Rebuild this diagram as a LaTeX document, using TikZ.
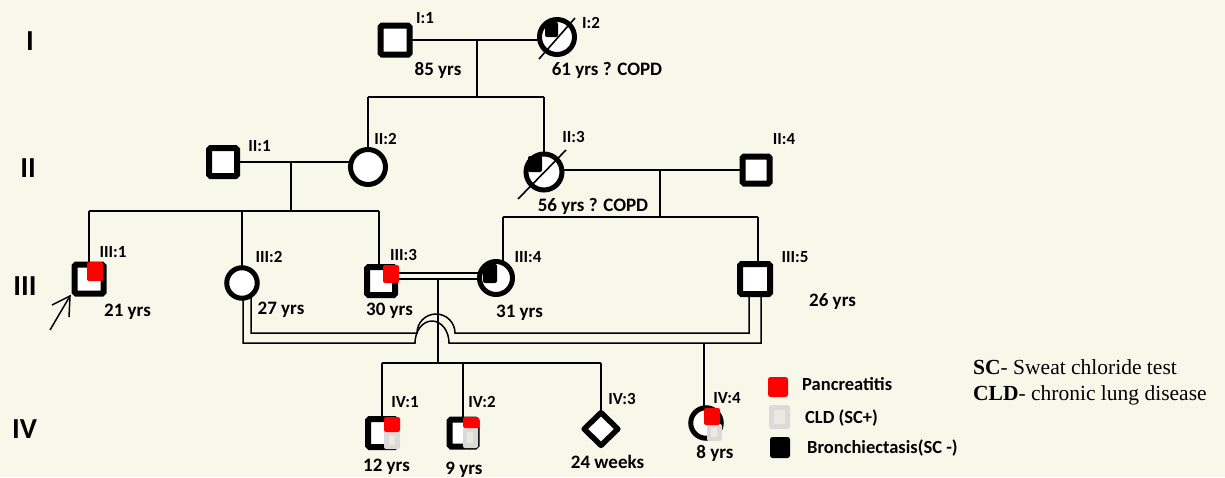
\documentclass[tikz,border=0pt]{standalone}
\usepackage{fontspec}
\setmainfont{Carlito}
\newfontfamily\serifx{Liberation Serif}
\usetikzlibrary{shapes.geometric,backgrounds}
\definecolor{bg}{RGB}{248,248,234}
\definecolor{cldgrey}{RGB}{218,218,218}
\definecolor{cldin}{RGB}{236,234,222}
\definecolor{redm}{RGB}{255,0,0}
\tikzset{
  male/.style={draw, rectangle, line width=6pt, rounded corners=1.5pt, fill=white, minimum size=#1, inner sep=0pt},
  female/.style={draw, circle, line width=5pt, fill=white, minimum size=#1, inner sep=0pt},
  unknownsex/.style={draw, diamond, line width=5.5pt, line join=round, fill=white, minimum width=36pt, minimum height=35pt, inner sep=0pt},
  conn/.style={line width=1.5pt, black},
  idlab/.style={font=\bfseries\fontsize{17}{19}\selectfont, inner sep=0pt, anchor=base},
  agelab/.style={font=\bfseries\fontsize{19}{21}\selectfont, inner sep=0pt, anchor=base},
  genlab/.style={font=\bfseries\fontsize{29}{31}\selectfont, inner sep=0pt, anchor=base},
  leglab/.style={font=\bfseries\fontsize{18.5}{20}\selectfont, inner sep=0pt, anchor=base west},
  notelab/.style={font=\serifx\fontsize{21.5}{23}\selectfont, inner sep=0pt, anchor=base west},
  redmark/.style={fill=redm, rounded corners=2pt},
  blackmark/.style={fill=black, rounded corners=2pt},
  slash/.style={line width=1.6pt, black}
}
\begin{document}
\begin{tikzpicture}[x=1pt,y=-1pt]
\useasboundingbox (0,0) rectangle (1225,477);

% ---- individuals ----
\node[male=29pt] (I1) at (395,40) {};
\node[female=35pt] (I2) at (557,37) {};
\node[male=28pt] (II1) at (223,162) {};
\node[female=35pt] (II2) at (368,167) {};
\node[female=36pt] (II3) at (544,172) {};
\node[male=27pt] (II4) at (756,170) {};
\node[male=29pt] (III1) at (89,279) {};
\node[female=30.5pt] (III2) at (242,283) {};
\node[male=28pt] (III3) at (381,281) {};
\node[female=33pt] (III4) at (496,278) {};
\node[male=30pt] (III5) at (755,279) {};
\node[male=28pt] (IV1) at (382,433) {};
\node[male=27pt] (IV2) at (463,433) {};
\node[unknownsex] (IV3) at (601,429) {};
\node[female=30.5pt] (IV4) at (706,423) {};

% ---- connectors (behind symbols) ----
\begin{pgfonlayer}{background}
\fill[bg] (0,0) rectangle (1225,477);
% generation I
\draw[conn] (I1.center) -- (I1 -| I2);
\coordinate (m1) at (477,40);
\coordinate (s1) at (477,97);
\draw[conn] (m1) -- (s1);
\draw[conn] (II2 |- s1) -- (II3 |- s1);
\draw[conn] (II2 |- s1) -- (II2.center);
\draw[conn] (II3 |- s1) -- (II3.center);
% generation II left
\draw[conn] (II1.center) -- (II1 -| II2);
\coordinate (m2) at (291,162);
\coordinate (s2) at (291,211);
\coordinate (d3) at (379,211);
\draw[conn] (m2) -- (s2);
\draw[conn] (III1 |- s2) -- (d3);
\draw[conn] (III1 |- s2) -- (III1.center);
\draw[conn] (III2 |- s2) -- (III2.center);
\draw[conn] (d3) -- (d3 |- III3.center);
% generation II right
\draw[conn] (II4.center) -- (II4 -| II3);
\coordinate (m3) at (660,170);
\coordinate (s3) at (660,217);
\coordinate (d4) at (503,217);
\coordinate (d5) at (758,217);
\draw[conn] (m3) -- (s3);
\draw[conn] (d4) -- (d5);
\draw[conn] (d4) -- (d4 |- III4.center);
\draw[conn] (d5) -- (d5 |- III5.center);
% III:3 = III:4 consanguineous
\coordinate (ya) at (0,273);
\coordinate (yb) at (0,279);
\draw[conn] (III3 |- ya) -- (III4 |- ya);
\draw[conn] (III3 |- yb) -- (III4 |- yb);
\coordinate (m4) at (438,279);
\coordinate (s4) at (438,363);
\draw[conn] (m4) -- (s4);
\draw[conn] (IV1 |- s4) -- (IV3 |- s4);
\draw[conn] (IV1 |- s4) -- (IV1.center);
\draw[conn] (IV2 |- s4) -- (IV2.center);
\draw[conn] (IV3 |- s4) -- (IV3.center);
% III:2 = III:5 consanguineous
\coordinate (oa) at (243,343);
\coordinate (ob) at (761,343);
\coordinate (ia) at (251,333);
\coordinate (ib) at (749,333);
\draw[conn] (oa |- III2.center) -- (oa) -- (415,343)
   arc[start angle=180, end angle=360, x radius=17, y radius=22] -- (ob) -- (ob |- III5.center);
\draw[conn] (ia |- III2.center) -- (ia) -- (417,333)
   arc[start angle=180, end angle=360, x radius=19, y radius=19] -- (ib) -- (ib |- III5.center);
\coordinate (d6) at (704,343);
\draw[conn] (d6) -- (d6 |- IV4.center);
\end{pgfonlayer}

% ---- affection marks ----
\fill[blackmark] (545,22) rectangle (558,37);
\fill[blackmark] (528,156) rectangle (542,172);
\fill[blackmark] (483,264) rectangle (497,283);
\draw[slash] (539,59) -- (575,18);
\draw[slash] (518,199) -- (566,150);
\fill[redmark] (87,262) rectangle (103,281);
\fill[redmark] (383,265) rectangle (399,283);
% IV:1
\fill[cldgrey, rounded corners=2pt] (384,431) rectangle (400,449);
\fill[cldin] (389,436) rectangle (395,445);
\fill[redmark] (384,417) rectangle (400,432);
% IV:2
\fill[cldgrey, rounded corners=2pt] (463,427) rectangle (478,448);
\fill[cldin] (467,432) rectangle (473,443);
\fill[redmark] (463,417) rectangle (479,428);
% IV:4
\fill[cldgrey, rounded corners=2pt] (707,424) rectangle (722,441);
\fill[cldin] (711,428) rectangle (717,437);
\fill[redmark] (704,408) rectangle (720,425);

% proband arrow
\coordinate (pa) at (50,330);
\coordinate (pb) at (70,296);
\draw[conn] (pa) -- (pb);
\draw[conn] (52,305) -- (pb) -- (69,317);

% ---- generation labels ----
\node[genlab] (gI) at (30,50) {I};
\node[genlab] (gII) at (28,177) {II};
\node[genlab] (gIII) at (25,295) {III};
\node[genlab] (gIV) at (24.5,438) {IV};

% ---- id labels ----
\node[idlab] (lI1) at (425,23) {I:1};
\node[idlab] (lI2) at (591,28) {I:2};
\node[idlab] (lII1) at (259.5,151) {II:1};
\node[idlab] (lII2) at (385.5,144) {II:2};
\node[idlab] (lII3) at (573.5,142) {II:3};
\node[idlab] (lII4) at (784,144) {II:4};
\node[idlab] (lIII1) at (113,257) {III:1};
\node[idlab] (lIII2) at (269,262) {III:2};
\node[idlab] (lIII3) at (403.5,260) {III:3};
\node[idlab] (lIII4) at (528,262) {III:4};
\node[idlab] (lIII5) at (795,262) {III:5};
\node[idlab] (lIV1) at (405,407) {IV:1};
\node[idlab] (lIV2) at (482,407) {IV:2};
\node[idlab] (lIV3) at (622,404) {IV:3};
\node[idlab] (lIV4) at (727,403) {IV:4};

% ---- ages ----
\node[agelab] (aI1) at (438,75) {85 yrs};
\node[agelab] (aI2) at (607,75) {61 yrs ? COPD};
\node[agelab] (aII3) at (593,211) {56 yrs ? COPD};
\node[agelab] (aIII1) at (127.5,316) {21 yrs};
\node[agelab] (aIII2) at (281,314) {27 yrs};
\node[agelab] (aIII3) at (389.5,315) {30 yrs};
\node[agelab] (aIII4) at (519.5,317) {31 yrs};
\node[agelab] (aIII5) at (832.5,306) {26 yrs};
\node[agelab] (aIV1) at (386.5,471) {12 yrs};
\node[agelab] (aIV2) at (464,474) {9 yrs};
\node[agelab] (aIV3) at (607.5,468) {24 weeks};
\node[agelab] (aIV4) at (715,458) {8 yrs};

% ---- legend ----
\fill[redmark, rounded corners=2.5pt] (768,377) rectangle (788,397);
\fill[cldgrey, rounded corners=2.5pt] (769,405) rectangle (790,429);
\fill[cldin] (774,410) rectangle (785,424);
\fill[blackmark, rounded corners=2.5pt] (770,437) rectangle (790,458);
\node[leglab] (lg1) at (802,390) {Pancreatitis};
\node[leglab] (lg2) at (805,423) {CLD (SC+)};
\node[leglab] (lg3) at (807,453) {Bronchiectasis(SC -)};

\node[notelab] (n1) at (973,374) {\textbf{SC}- Sweat chloride test};
\node[notelab] (n2) at (973,400) {\textbf{CLD}- chronic lung disease};
\end{tikzpicture}
\end{document}
